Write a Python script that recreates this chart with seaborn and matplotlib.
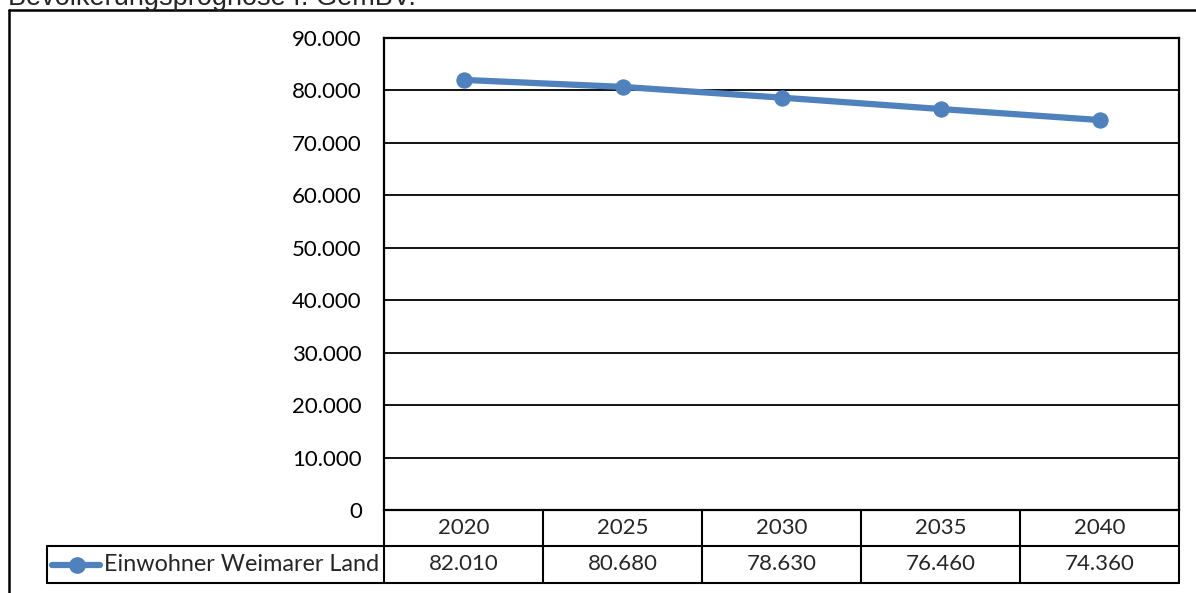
import matplotlib
matplotlib.use("Agg")
import matplotlib.pyplot as plt
import matplotlib.transforms as mtransforms
from matplotlib.lines import Line2D
import seaborn as sns
import pandas as pd

# Population forecast data
years = ["2020", "2025", "2030", "2035", "2040"]
einwohner = [82010, 80680, 78630, 76460, 74360]
series_name = "Einwohner Weimarer Land"
title_text = "Bevölkerungsprognose f. GemBV."
y_ticks = [0, 10000, 20000, 30000, 40000, 50000, 60000, 70000, 80000, 90000]

LINE_COLOR = "#4F81BD"
FONT = ["Lato", "DejaVu Sans"]
FS = 16

sns.set_theme(style="white")
plt.rcParams["font.family"] = FONT

W, H = 1196, 593
fig = plt.figure(figsize=(W / 100, H / 100), dpi=100)
fig.patch.set_facecolor("white")


def fx(px):
    return px / W


def fy(py):
    return 1 - py / H


def de(v):
    return f"{v:,}".replace(",", ".")


# plot area
left, right, top, bottom = 384, 1179, 38, 510
ax = fig.add_axes([fx(left), fy(bottom), fx(right - left), (bottom - top) / H])

df = pd.DataFrame({"pos": range(len(years)), "val": einwohner})
sns.lineplot(data=df, x="pos", y="val", ax=ax, color=LINE_COLOR,
             linewidth=4.5, marker="o", markersize=11,
             markeredgecolor=LINE_COLOR, markerfacecolor=LINE_COLOR)

ax.set_xlim(-0.5, len(years) - 0.5)
ax.set_ylim(0, 90000)
ax.set_yticks(y_ticks)
ax.set_yticklabels([de(v) for v in y_ticks], fontsize=FS)
ax.set_xticks([])
ax.set_xlabel("")
ax.set_ylabel("")
ax.tick_params(axis="y", length=0, pad=16, labelcolor="black")
ax.yaxis.grid(True, color="black", linewidth=1.3)
ax.set_axisbelow(True)
for side in ["left", "top", "right", "bottom"]:
    ax.spines[side].set_visible(True)
    ax.spines[side].set_color("black")
    ax.spines[side].set_linewidth(1.6)

# data table below the plot
row1_top, row1_bot, row2_bot = 510, 546, 583
legend_left = 47
lw = 1.5
ft = fig.transFigure


def hline(x0, x1, y):
    fig.add_artist(Line2D([fx(x0), fx(x1)], [fy(y), fy(y)], transform=ft,
                          color="black", linewidth=lw))


def vline(x, y0, y1):
    fig.add_artist(Line2D([fx(x), fx(x)], [fy(y0), fy(y1)], transform=ft,
                          color="black", linewidth=lw))


hline(legend_left, right, row1_bot)
hline(legend_left, right, row2_bot)
vline(legend_left, row1_bot, row2_bot)
vline(left, row1_top, row2_bot)
vline(right, row1_top, row2_bot)
col_w = (right - left) / len(years)
for i in range(1, len(years)):
    vline(left + i * col_w, row1_top, row2_bot)

blend = mtransforms.blended_transform_factory(ax.transData, ft)
for i, (yr, v) in enumerate(zip(years, einwohner)):
    ax.text(i, fy((row1_top + row1_bot) / 2), yr, transform=blend,
            ha="center", va="center", fontsize=FS, clip_on=False)
    ax.text(i, fy((row1_bot + row2_bot) / 2), de(v),
            transform=blend, ha="center", va="center", fontsize=FS,
            clip_on=False)

# legend key inside the table
ymid = fy((row1_bot + row2_bot) / 2)
fig.add_artist(Line2D([fx(52), fx(100)], [ymid, ymid], transform=ft,
                      color=LINE_COLOR, linewidth=4.5))
fig.add_artist(Line2D([fx(77)], [ymid], transform=ft, color=LINE_COLOR,
                      marker="o", markersize=11, linestyle="none"))
fig.text(fx(104), ymid, series_name, ha="left", va="center", fontsize=16.8)

# outer frame
fig.add_artist(Line2D([fx(9), fx(9)], [fy(10), 0], transform=ft,
                      color="black", linewidth=1.8))
fig.add_artist(Line2D([fx(9), 1], [fy(10), fy(10)], transform=ft,
                      color="black", linewidth=1.8))

# heading
fig.text(fx(8), fy(5), title_text, ha="left", va="baseline", fontsize=19.5,
         family=["Liberation Sans", "DejaVu Sans"])

fig.savefig("out.png", dpi=100, facecolor="white")
